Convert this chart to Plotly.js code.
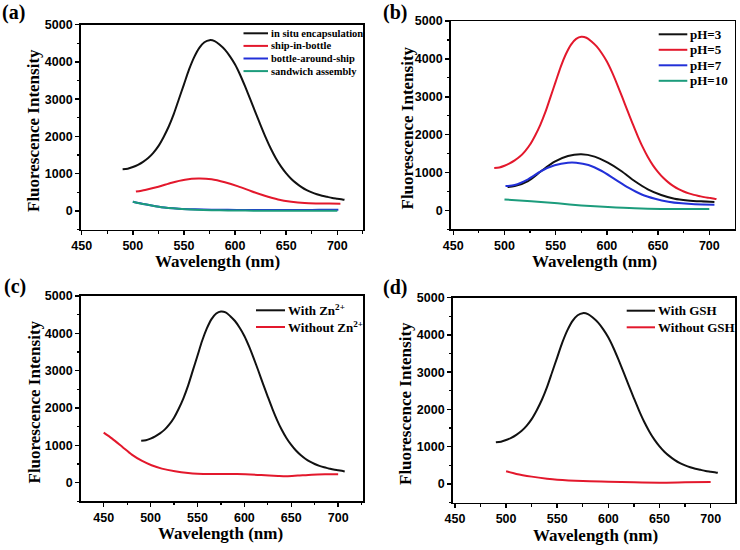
<!DOCTYPE html>
<html>
<head>
<meta charset="utf-8">
<script src="https://cdn.plot.ly/plotly-3.0.1.min.js"></script>
<style>html,body{margin:0;padding:0;background:#fff;}#chart{width:740px;height:550px;}</style>
</head>
<body>
<div id="chart"></div>
<script>
// ---------- data ----------
// main emission spectrum (in situ encapsulation / pH=5 / with Zn2+ / with GSH)
const wlPeak = [490,495,500,505,510,515,520,525,530,535,540,545,550,555,560,565,570,575,580,585,590,595,600,605,610,615,620,625,630,635,640,645,650,655,660,665,670,675,680,685,690,695,700,705,707];
const peakIntensity = [1120,1135,1180,1240,1320,1420,1560,1740,1980,2260,2600,3000,3400,3800,4130,4380,4530,4585,4560,4460,4330,4150,3930,3650,3330,2990,2640,2300,1970,1670,1410,1190,1010,860,740,640,560,500,450,410,380,350,330,310,300];

// (a)
const wlShip = [503,512,525,538,551,564,577,590,603,616,629,642,655,668,680,692,703];
const shipInBottle = [520,565,650,760,840,870,850,770,660,530,410,310,250,215,203,198,197];
const wlBottle = [500,512,528,545,561,577,593,610,626,642,659,675,690,701];
const bottleAroundShip = [250,180,100,63,45,36,30,27,27,27,27,28,32,35];
const wlSandwich = [500,512,528,545,561,577,593,610,626,642,659,675,690,700];
const sandwichAssembly = [250,178,98,58,36,22,14,10,8,7,7,8,8,8];

// (b)
const wlPH3 = [503,510,523,536,549,562,575,588,601,614,627,640,653,666,679,692,705];
const pH3 = [615,640,775,1040,1285,1435,1480,1420,1260,1040,775,555,405,308,264,238,220];
const wlPH7 = [501,510,523,536,549,562,570,582,595,608,621,634,647,660,673,686,705];
const pH7 = [643,670,820,1040,1190,1260,1260,1200,1040,820,600,420,308,230,185,160,150];
const wlPH10 = [500,526,552,575,601,627,653,679,700];
const pH10 = [290,238,185,132,88,53,35,35,35];

// (c)
const wlNoZn = [450,459,470,480,491,501,512,526,540,550,565,583,601,618,636,645,657,672,686,700];
const withoutZn = [1340,1180,955,750,580,465,375,304,259,241,232,232,223,205,178,170,188,214,223,223];

// (d)
const wlNoGSH = [500,510,525,540,550,575,600,625,650,675,700];
const withoutGSH = [340,269,197,143,116,80,63,45,36,45,54];

const panelLabels = ['(a)','(b)','(c)','(d)'];
const xTitle = 'Wavelength (nm)';
const yTitle = 'Fluorescence Intensity';
const legendA = ['in situ encapsulation','ship-in-bottle','bottle-around-ship','sandwich assembly'];
const legendB = ['pH=3','pH=5','pH=7','pH=10'];
const legendC = ['With Zn<sup>2+</sup>','Without Zn<sup>2+</sup>'];
const legendD = ['With GSH','Without GSH'];

// ---------- styling ----------
const W = 740, H = 550;
const BLACK = '#111111', RED = '#e3182c', BLUE = '#2230d8', TEAL = '#1c9c7c';
const serif = 'Liberation Serif, Times New Roman, serif';
const sans = 'Liberation Sans, Arial, sans-serif';
const px = v => v / W;
const py = v => 1 - v / H;

function line(x, y, color, xa, ya) {
  return {x: x, y: y, type: 'scatter', mode: 'lines', xaxis: xa, yaxis: ya,
          line: {color: color, width: 2, shape: 'spline', smoothing: 0.8},
          hoverinfo: 'skip', showlegend: false};
}

const data = [
  line(wlPeak, peakIntensity, BLACK, 'x', 'y'),
  line(wlShip, shipInBottle, RED, 'x', 'y'),
  line(wlBottle, bottleAroundShip, BLUE, 'x', 'y'),
  line(wlSandwich, sandwichAssembly, TEAL, 'x', 'y'),

  line(wlPeak, peakIntensity, RED, 'x2', 'y2'),
  line(wlPH3, pH3, BLACK, 'x2', 'y2'),
  line(wlPH7, pH7, BLUE, 'x2', 'y2'),
  line(wlPH10, pH10, TEAL, 'x2', 'y2'),

  line(wlPeak, peakIntensity, BLACK, 'x3', 'y3'),
  line(wlNoZn, withoutZn, RED, 'x3', 'y3'),

  line(wlPeak, peakIntensity, BLACK, 'x4', 'y4'),
  line(wlNoGSH, withoutGSH, RED, 'x4', 'y4')
];

const tickFont = {family: sans, size: 12.5, color: '#000', weight: 700};
function xAxis(dom, range, anchor) {
  return {domain: [px(dom[0]), px(dom[1])], range: range, anchor: anchor,
    showline: true, linewidth: 1.6, linecolor: '#000', mirror: true,
    ticks: 'outside', ticklen: 4, tickwidth: 1.5, tickcolor: '#000',
    tick0: 450, dtick: 50, tickfont: tickFont, tickprefix: '<b>', ticksuffix: '</b>',
    minor: {dtick: 25, ticks: 'outside', ticklen: 2.5, tickwidth: 1.2, tickcolor: '#000'},
    showgrid: false, zeroline: false, fixedrange: true, automargin: false};
}
function yAxis(dom, anchor) {
  return {domain: [py(dom[1]), py(dom[0])], range: [-500, 5000], anchor: anchor,
    showline: true, linewidth: 1.6, linecolor: '#000', mirror: true,
    ticks: 'outside', ticklen: 4, tickwidth: 1.5, tickcolor: '#000',
    tick0: 0, dtick: 1000, tickfont: tickFont, tickprefix: '<b>', ticksuffix: '</b>',
    minor: {dtick: 500, ticks: 'outside', ticklen: 2.5, tickwidth: 1.2, tickcolor: '#000'},
    showgrid: false, zeroline: false, fixedrange: true, automargin: false};
}

const annotations = [];
const shapes = [];
function txt(x, y, text, size, opts) {
  annotations.push(Object.assign({xref: 'paper', yref: 'paper', x: px(x), y: py(y), text: text,
    showarrow: false, xanchor: 'center', yanchor: 'middle',
    font: {family: serif, size: size, color: '#000', weight: 'bold'}}, opts || {}));
}
function legend(x0, x1, ys, labels, colors, size) {
  labels.forEach((lab, i) => {
    shapes.push({type: 'line', xref: 'paper', yref: 'paper', x0: px(x0), x1: px(x1), y0: py(ys[i]), y1: py(ys[i]),
      line: {color: colors[i], width: 2}});
    txt(x1 + 0.5, ys[i], lab, size, {xanchor: 'left'});
  });
}

// panel labels
txt(13.5, 12.5, panelLabels[0], 20);
txt(394.5, 12.5, panelLabels[1], 20);
txt(14.5, 286.5, panelLabels[2], 20);
txt(394.5, 287.5, panelLabels[3], 20);
// axis titles
txt(217.5, 261, xTitle, 17);
txt(594, 261, xTitle, 17);
txt(220, 533, xTitle, 17);
txt(595, 535, xTitle, 17);
txt(33.5, 130.5, yTitle, 17, {textangle: -90});
txt(407, 128.5, yTitle, 17, {textangle: -90});
txt(33.5, 402, yTitle, 17, {textangle: -90});
txt(405, 403, yTitle, 17, {textangle: -90});
// legends
legend(243.5, 268, [33.3, 45.9, 58.5, 71.1], legendA, [BLACK, RED, BLUE, TEAL], 10.5);
legend(658.7, 687.3, [34.3, 49.8, 65.3, 80.8], legendB, [BLACK, RED, BLUE, TEAL], 13);
legend(256, 285, [310.3, 327], legendC, [BLACK, RED], 13);
legend(626.7, 655, [310.7, 327.3], legendD, [BLACK, RED], 13);

const layout = {
  width: W, height: H,
  margin: {l: 0, r: 0, t: 0, b: 0, pad: 0},
  paper_bgcolor: '#fff', plot_bgcolor: '#fff',
  showlegend: false,
  xaxis: xAxis([80.7, 363.3], [449, 725.4], 'y'),
  yaxis: yAxis([24.7, 229.6], 'x'),
  xaxis2: xAxis([450.7, 734.7], [447.5, 724.8], 'y2'),
  yaxis2: yAxis([21.1, 229.3], 'x2'),
  xaxis3: xAxis([80.7, 363], [425.5, 726.5], 'y3'),
  yaxis3: yAxis([296, 501.3], 'x3'),
  xaxis4: xAxis([452.7, 735], [447.8, 723.8], 'y4'),
  yaxis4: yAxis([297.7, 502.6], 'x4'),
  annotations: annotations,
  shapes: shapes
};

Plotly.newPlot('chart', data, layout, {staticPlot: true, displayModeBar: false});
</script>
</body>
</html>
